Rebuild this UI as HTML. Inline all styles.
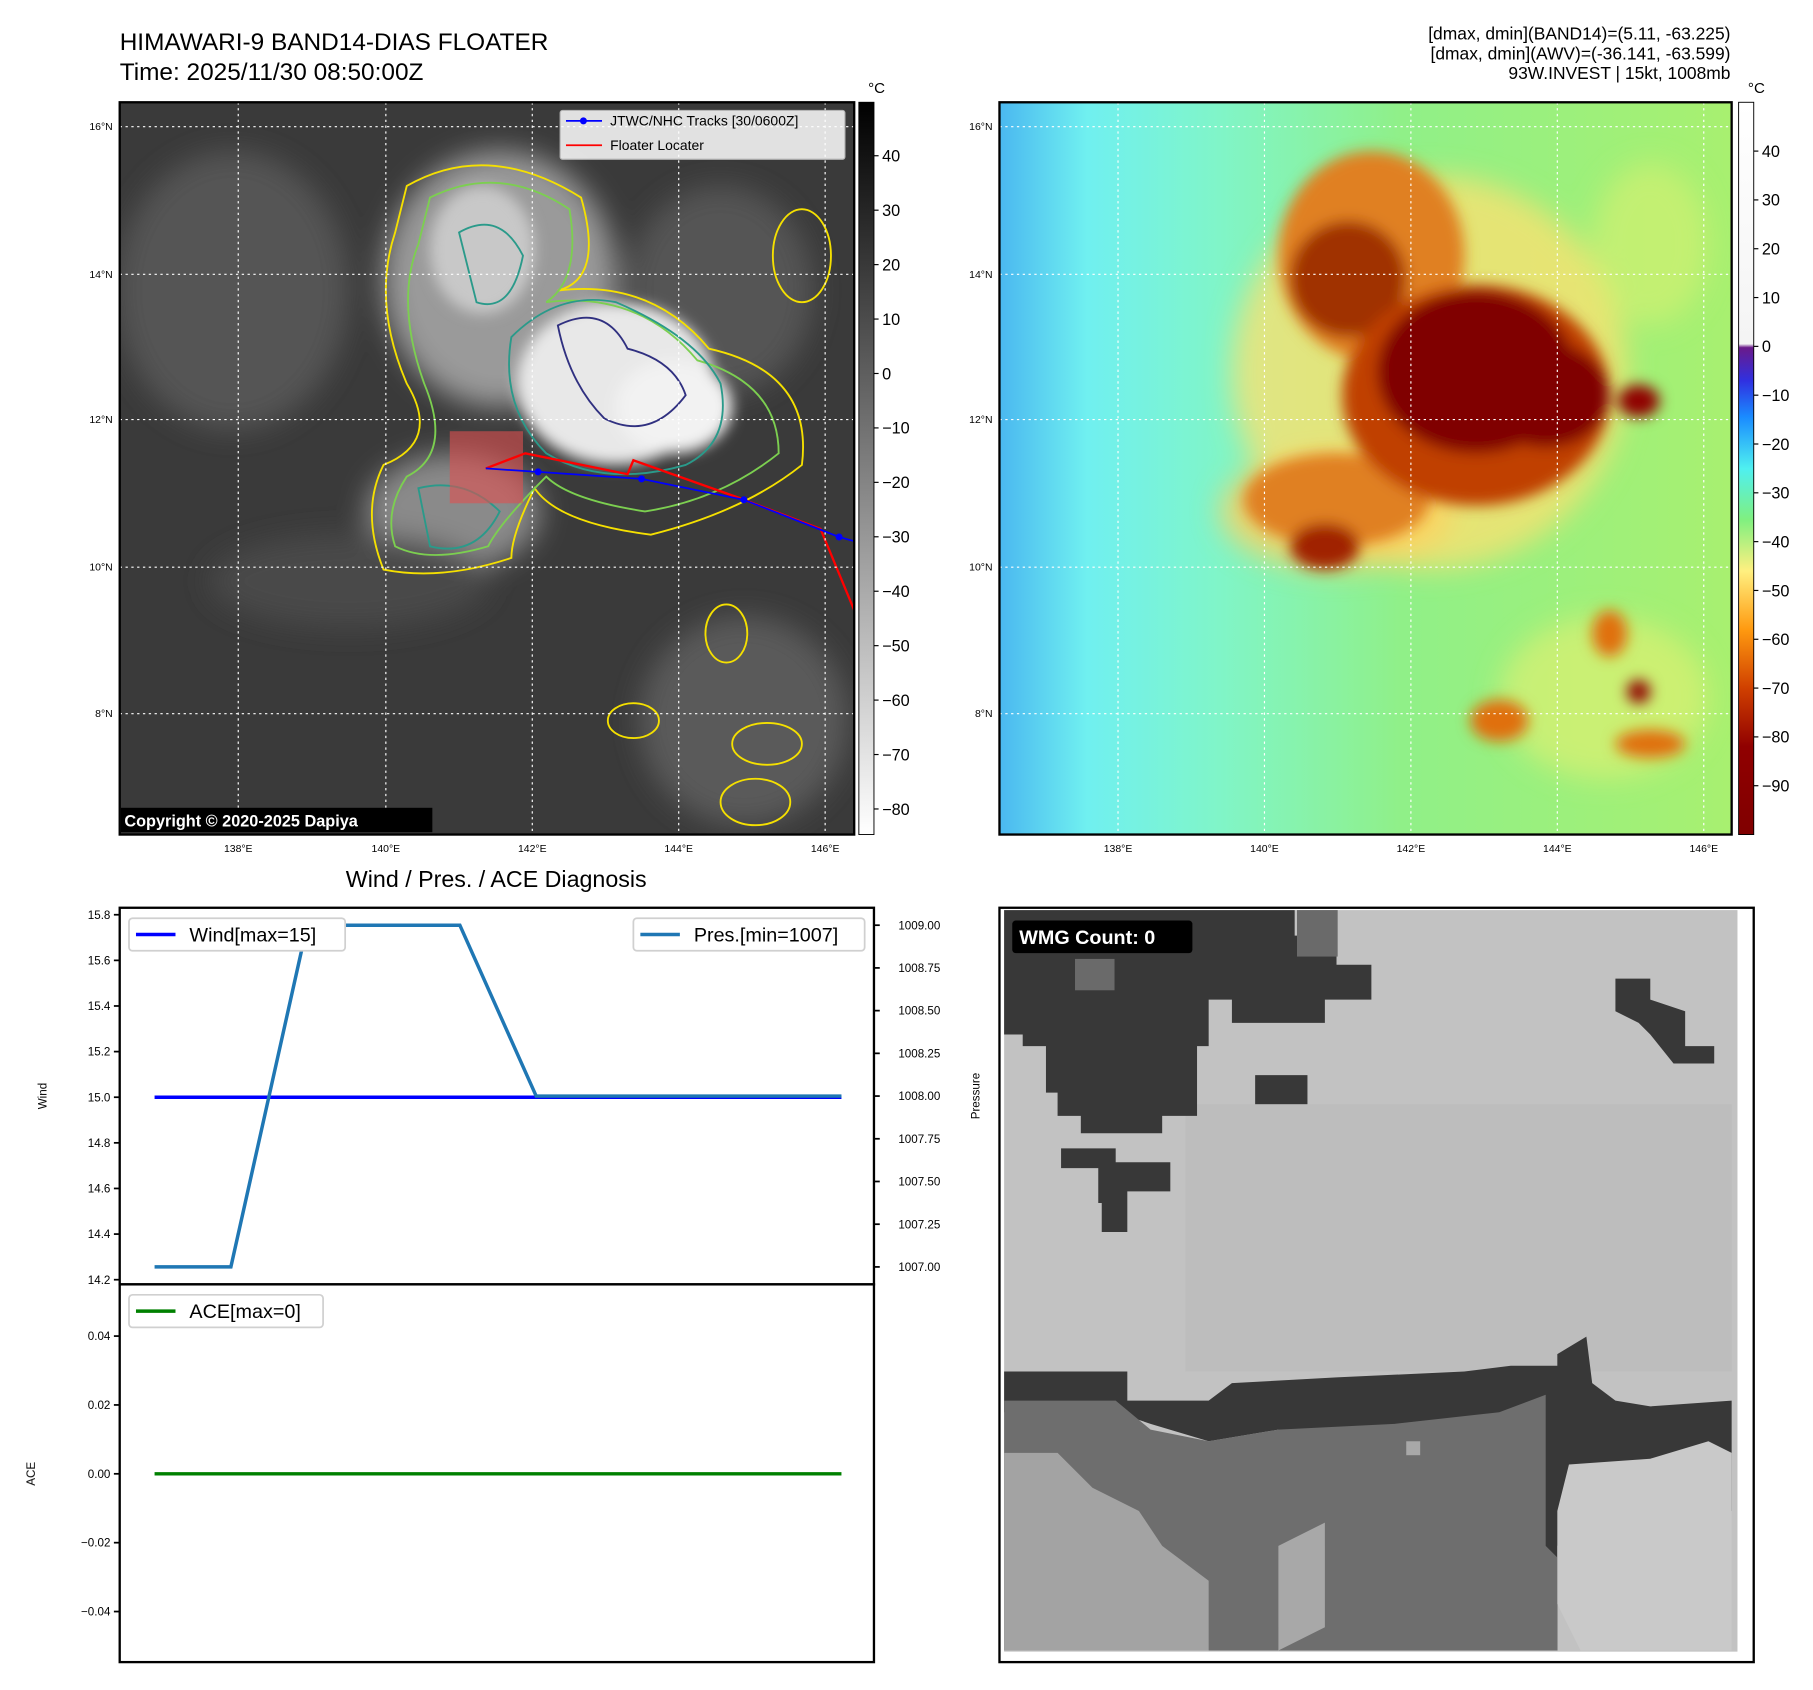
<!DOCTYPE html>
<html><head><meta charset="utf-8"><style>
html,body{margin:0;padding:0;background:#fff}
svg{display:block}
text{font-family:"Liberation Sans","DejaVu Sans",sans-serif}
</style></head><body>
<svg id="root" width="1813" height="1690" viewBox="0 0 1560 1454" preserveAspectRatio="none" xmlns="http://www.w3.org/2000/svg">
<defs>
<filter id="b6"><feGaussianBlur stdDeviation="6"/></filter>
<filter id="b12"><feGaussianBlur stdDeviation="12"/></filter>
<filter id="b3"><feGaussianBlur stdDeviation="2.5"/></filter>
<clipPath id="c1"><rect x="103" y="88" width="632" height="630"/></clipPath>
<clipPath id="c2"><rect x="860" y="88" width="630" height="630"/></clipPath>
<linearGradient id="cb1" x1="0" y1="0" x2="0" y2="1"><stop offset="0" stop-color="#000"/><stop offset="1" stop-color="#fff"/></linearGradient>
<linearGradient id="cb2" x1="0" y1="0" x2="0" y2="1">
<stop offset="0" stop-color="#fff"/><stop offset="0.33" stop-color="#f4f4f4"/>
<stop offset="0.335" stop-color="#6a1a8a"/><stop offset="0.38" stop-color="#3030e0"/>
<stop offset="0.43" stop-color="#1a8cff"/><stop offset="0.5" stop-color="#4ff0f0"/>
<stop offset="0.57" stop-color="#80f080"/><stop offset="0.64" stop-color="#fff080"/>
<stop offset="0.72" stop-color="#ff9a10"/><stop offset="0.8" stop-color="#d04000"/>
<stop offset="0.88" stop-color="#900000"/><stop offset="1" stop-color="#800000"/></linearGradient>
<linearGradient id="bg2" x1="0" y1="0" x2="1" y2="0"><stop offset="0" stop-color="#4ab8f0"/><stop offset="0.12" stop-color="#70f0f0"/><stop offset="0.3" stop-color="#80f5c8"/><stop offset="0.55" stop-color="#90f088"/><stop offset="1" stop-color="#a8f070"/></linearGradient>
</defs>

<!-- titles -->
<text x="103" y="43" font-size="21">HIMAWARI-9 BAND14-DIAS FLOATER</text>
<text x="103" y="69" font-size="21">Time: 2025/11/30 08:50:00Z</text>
<g font-size="15" text-anchor="end">
<text x="1489" y="34">[dmax, dmin](BAND14)=(5.11, -63.225)</text>
<text x="1489" y="51">[dmax, dmin](AWV)=(-36.141, -63.599)</text>
<text x="1489" y="68">93W.INVEST | 15kt, 1008mb</text>
</g>

<!-- MAP 1 -->
<g clip-path="url(#c1)">
<rect x="103" y="88" width="632" height="630" fill="#3a3a3a"/>
<g filter="url(#b12)">
<ellipse cx="430" cy="240" rx="100" ry="110" fill="#9a9a9a"/>
<ellipse cx="390" cy="440" rx="75" ry="50" fill="#8a8a8a"/>
<ellipse cx="200" cy="250" rx="100" ry="120" fill="#555"/>
<ellipse cx="620" cy="250" rx="80" ry="90" fill="#555"/>
<ellipse cx="640" cy="620" rx="90" ry="90" fill="#5a5a5a"/>
<ellipse cx="300" cy="500" rx="120" ry="40" fill="#4a4a4a"/>
</g>
<g filter="url(#b6)">
<ellipse cx="530" cy="330" rx="85" ry="70" fill="#e8e8e8"/>
<ellipse cx="580" cy="350" rx="50" ry="40" fill="#f2f2f2"/>
<ellipse cx="415" cy="215" rx="45" ry="55" fill="#c8c8c8"/>
</g>
<g fill="none" stroke-width="1.6">
<path d="M350 160 Q420 120 500 170 Q520 240 480 250 Q560 240 610 300 Q700 320 690 400 Q640 440 560 460 Q480 450 460 420 Q440 460 440 480 Q380 500 330 490 Q310 440 330 400 Q380 380 350 330 Q320 260 340 200 Z" stroke="#f5e000"/>
<path d="M370 170 Q430 140 490 180 Q500 240 470 260 Q550 250 600 310 Q670 330 670 390 Q620 430 555 440 Q490 430 470 410 Q430 450 420 470 Q370 485 340 470 Q330 440 350 410 Q390 390 365 330 Q340 260 360 210 Z" stroke="#7ccf50"/>
<path d="M440 290 Q480 250 530 260 Q600 290 620 330 Q630 380 590 400 Q520 420 470 390 Q430 350 440 290 Z" stroke="#2a9a8a"/>
<path d="M480 280 Q520 260 540 300 Q580 310 590 340 Q560 380 520 360 Q490 330 480 280 Z" stroke="#303080"/>
<path d="M395 200 Q430 180 450 220 Q440 270 410 260 Z" stroke="#2a9a8a"/>
<path d="M360 420 Q400 410 430 440 Q410 480 370 470 Z" stroke="#2a9a8a"/>
<ellipse cx="625" cy="545" rx="18" ry="25" stroke="#f5e000"/>
<ellipse cx="545" cy="620" rx="22" ry="15" stroke="#f5e000"/>
<ellipse cx="660" cy="640" rx="30" ry="18" stroke="#f5e000"/>
<ellipse cx="650" cy="690" rx="30" ry="20" stroke="#f5e000"/>
<ellipse cx="690" cy="220" rx="25" ry="40" stroke="#f5e000"/>
</g>
<rect x="387" y="371" width="63" height="62" fill="#e05050" opacity="0.6"/>
<polyline points="418,403 452,390 540,408 545,396 635,428 706,455 735,525" fill="none" stroke="#ff0000" stroke-width="2"/>
<polyline points="418,403 463,406 552,412 640,430 722,462 740,467" fill="none" stroke="#0000ff" stroke-width="1.5"/>
<g fill="#0000ff"><circle cx="463" cy="406" r="3"/><circle cx="552" cy="412" r="3"/><circle cx="640" cy="430" r="3"/><circle cx="722" cy="462" r="3"/></g>
<g stroke="#fff" stroke-dasharray="2,3" stroke-width="1">
<line x1="205" y1="88" x2="205" y2="718"/><line x1="332" y1="88" x2="332" y2="718"/><line x1="458" y1="88" x2="458" y2="718"/><line x1="584" y1="88" x2="584" y2="718"/><line x1="710" y1="88" x2="710" y2="718"/>
<line x1="103" y1="109" x2="735" y2="109"/><line x1="103" y1="236" x2="735" y2="236"/><line x1="103" y1="361" x2="735" y2="361"/><line x1="103" y1="488" x2="735" y2="488"/><line x1="103" y1="614" x2="735" y2="614"/>
</g>
<rect x="104" y="695" width="268" height="21" fill="#000"/>
<text x="107" y="711" font-size="14" font-weight="bold" fill="#fff">Copyright © 2020-2025 Dapiya</text>
<g>
<rect x="482" y="95" width="245" height="42" fill="#fff" opacity="0.85" stroke="#ccc" rx="2"/>
<line x1="487" y1="104" x2="518" y2="104" stroke="#0000ff" stroke-width="1.5"/><circle cx="502" cy="104" r="3" fill="#0000ff"/>
<text x="525" y="108" font-size="12">JTWC/NHC Tracks [30/0600Z]</text>
<line x1="487" y1="125" x2="518" y2="125" stroke="#ff0000" stroke-width="1.5"/>
<text x="525" y="129" font-size="12">Floater Locater</text>
</g>
</g>
<rect x="103" y="88" width="632" height="630" fill="none" stroke="#000" stroke-width="2"/>
<g font-size="9">
<text x="205" y="733" text-anchor="middle">138°E</text><text x="332" y="733" text-anchor="middle">140°E</text><text x="458" y="733" text-anchor="middle">142°E</text><text x="584" y="733" text-anchor="middle">144°E</text><text x="710" y="733" text-anchor="middle">146°E</text>
<text x="97" y="112" text-anchor="end">16°N</text><text x="97" y="239" text-anchor="end">14°N</text><text x="97" y="364" text-anchor="end">12°N</text><text x="97" y="491" text-anchor="end">10°N</text><text x="97" y="617" text-anchor="end">8°N</text>
</g>
<g>
<rect x="739" y="88" width="13" height="630" fill="url(#cb1)" stroke="#000" stroke-width="0.8"/>
<text x="747" y="80" font-size="13">°C</text>
<g id="cb1t" font-size="14"></g>
</g>

<!-- MAP 2 -->
<g clip-path="url(#c2)">
<rect x="860" y="88" width="630" height="630" fill="url(#bg2)"/>
<g filter="url(#b12)">
<ellipse cx="1230" cy="320" rx="170" ry="170" fill="#ffe070" opacity="0.75"/>
<ellipse cx="1150" cy="440" rx="100" ry="50" fill="#ffd060" opacity="0.8"/>
<ellipse cx="1380" cy="600" rx="90" ry="70" fill="#e8f070" opacity="0.6"/>
<ellipse cx="1420" cy="210" rx="50" ry="70" fill="#d8f070" opacity="0.6"/>
</g>
<g filter="url(#b6)">
<ellipse cx="1180" cy="220" rx="80" ry="90" fill="#e08020"/>
<ellipse cx="1160" cy="240" rx="50" ry="50" fill="#a03000"/>
<ellipse cx="1150" cy="430" rx="80" ry="40" fill="#e08020"/>
<ellipse cx="1140" cy="470" rx="30" ry="20" fill="#a02000"/>
<ellipse cx="1270" cy="340" rx="115" ry="95" fill="#c04000"/>
<ellipse cx="1270" cy="320" rx="85" ry="70" fill="#800000"/>
<ellipse cx="1330" cy="340" rx="55" ry="45" fill="#800000"/>
<ellipse cx="1410" cy="345" rx="18" ry="14" fill="#900000"/>
<ellipse cx="1385" cy="545" rx="15" ry="20" fill="#e07010"/>
<ellipse cx="1410" cy="595" rx="10" ry="10" fill="#900000"/>
<ellipse cx="1290" cy="620" rx="25" ry="18" fill="#e07010"/>
<ellipse cx="1420" cy="640" rx="30" ry="12" fill="#e07010"/>
</g>
<g stroke="#fff" stroke-dasharray="2,3" stroke-width="1">
<line x1="962" y1="88" x2="962" y2="718"/><line x1="1088" y1="88" x2="1088" y2="718"/><line x1="1214" y1="88" x2="1214" y2="718"/><line x1="1340" y1="88" x2="1340" y2="718"/><line x1="1466" y1="88" x2="1466" y2="718"/>
<line x1="860" y1="109" x2="1490" y2="109"/><line x1="860" y1="236" x2="1490" y2="236"/><line x1="860" y1="361" x2="1490" y2="361"/><line x1="860" y1="488" x2="1490" y2="488"/><line x1="860" y1="614" x2="1490" y2="614"/>
</g>
</g>
<rect x="860" y="88" width="630" height="630" fill="none" stroke="#000" stroke-width="2"/>
<g font-size="9">
<text x="962" y="733" text-anchor="middle">138°E</text><text x="1088" y="733" text-anchor="middle">140°E</text><text x="1214" y="733" text-anchor="middle">142°E</text><text x="1340" y="733" text-anchor="middle">144°E</text><text x="1466" y="733" text-anchor="middle">146°E</text>
<text x="854" y="112" text-anchor="end">16°N</text><text x="854" y="239" text-anchor="end">14°N</text><text x="854" y="364" text-anchor="end">12°N</text><text x="854" y="491" text-anchor="end">10°N</text><text x="854" y="617" text-anchor="end">8°N</text>
</g>
<g>
<rect x="1496" y="88" width="13" height="630" fill="url(#cb2)" stroke="#000" stroke-width="0.8"/>
<text x="1504" y="80" font-size="13">°C</text>
<g id="cb2t" font-size="14"></g>
</g>

<!-- CHART -->
<text x="427" y="763" font-size="20" text-anchor="middle">Wind / Pres. / ACE Diagnosis</text>
<g id="chart"></g>

<!-- WMG -->
<g id="wmg">
<rect x="860" y="781" width="649" height="649" fill="#fff" stroke="#000" stroke-width="2"/>
<rect x="864" y="783" width="631" height="638" fill="#c2c2c2"/>
<g fill="#bdbdbd"><rect x="1020" y="950" width="470" height="230"/></g>
<g fill="#383838">
<polygon points="864,783 1114,783 1114,805 1150,805 1150,830 1180,830 1180,860 1140,860 1140,880 1060,880 1060,860 1040,860 1040,900 1030,900 1030,960 1000,960 1000,975 930,975 930,960 910,960 910,940 900,940 900,900 880,900 880,890 864,890"/>
<rect x="1080" y="925" width="45" height="25"/>
<polygon points="913,988 960,988 960,1000 1007,1000 1007,1025 970,1025 970,1060 948,1060 948,1035 945,1035 945,1005 913,1005"/>
<polygon points="1390,842 1420,842 1420,860 1450,870 1450,900 1475,900 1475,915 1440,915 1420,890 1410,880 1390,870"/>
<polygon points="864,1180 970,1180 970,1205 1040,1205 1060,1190 1150,1185 1260,1180 1300,1175 1340,1175 1340,1165 1365,1150 1370,1190 1390,1205 1420,1210 1490,1205 1490,1300 1470,1300 1450,1320 1440,1350 1420,1340 1400,1330 1380,1300 1350,1310 1340,1330 1340,1420 1100,1420 1100,1230 1040,1240 990,1225 960,1215 864,1215"/>
</g>
<polygon points="864,1205 960,1205 990,1230 1040,1240 1100,1230 1200,1225 1290,1215 1330,1200 1330,1330 1340,1340 1340,1420 864,1420" fill="#6e6e6e"/>
<polygon points="864,1250 910,1250 940,1280 980,1300 1000,1330 1040,1360 1040,1420 864,1420" fill="#a3a3a3"/>
<polygon points="1100,1330 1140,1310 1140,1400 1100,1420" fill="#a8a8a8"/>
<polygon points="1350,1260 1420,1255 1470,1240 1490,1250 1490,1420 1360,1420 1340,1380 1340,1300" fill="#c9c9c9"/>
<rect x="1210" y="1240" width="12" height="12" fill="#a8a8a8"/>
<rect x="1116" y="783" width="35" height="40" fill="#6a6a6a"/>
<rect x="925" y="825" width="34" height="27" fill="#6a6a6a"/>
<rect x="871" y="792" width="155" height="28" rx="3" fill="#000"/>
<text x="877" y="812" font-size="17" font-weight="bold" fill="#fff">WMG Count: 0</text>
</g>
</svg>
<script>
// ---- chart data ----
const xIdx = [0,1,2,3,4,5,6,7,8,9];
const windVals = [15,15,15,15,15,15,15,15,15,15];
const presVals = [1007,1007,1009,1009,1009,1008,1008,1008,1008,1008];
const aceVals = [0,0,0,0,0,0,0,0,0,0];
const windTicks = [14.2,14.4,14.6,14.8,15.0,15.2,15.4,15.6,15.8];
const presTicks = [1007.00,1007.25,1007.50,1007.75,1008.00,1008.25,1008.50,1008.75,1009.00];
const aceTicks = [-0.04,-0.02,0.00,0.02,0.04];
const cb1Ticks = [40,30,20,10,0,-10,-20,-30,-40,-50,-60,-70,-80];
const cb2Ticks = [40,30,20,10,0,-10,-20,-30,-40,-50,-60,-70,-80,-90];

const NS='http://www.w3.org/2000/svg';
function mk(tag, attrs, parent){const e=document.createElementNS(NS,tag);for(const k in attrs)e.setAttribute(k,attrs[k]);parent.appendChild(e);return e;}
const chart=document.getElementById('chart');
const L=103,R=752,T1=781,B1=1105,B2=1430;
const xS=v=>L+30+(v)*65.67;
const wS=v=>1101-(v-14.2)*(314/1.6);
const pS=v=>1090-(v-1007)*147;
const aS=v=>1268-v*2962.5;

let r=mk('rect',{x:L,y:T1,width:R-L,height:B1-T1,fill:'none',stroke:'#000','stroke-width':2},chart);


r=mk('rect',{x:L,y:B1,width:R-L,height:B2-B1,fill:'none',stroke:'#000','stroke-width':2},chart);



windTicks.forEach(t=>{const y=wS(t);mk('line',{x1:L-5,x2:L,y1:y,y2:y,stroke:'#000','stroke-width':1.5},chart);
 const tx=mk('text',{x:L-8,y:y+3.5,'font-size':10,'text-anchor':'end'},chart);tx.textContent=t.toFixed(1);
 
 });
presTicks.forEach(t=>{const y=pS(t);mk('line',{x1:R,x2:R+5,y1:y,y2:y,stroke:'#000','stroke-width':1.5},chart);
 const tx=mk('text',{x:R+21,y:y+3.5,'font-size':10},chart);tx.textContent=t.toFixed(2);
 
 });
aceTicks.forEach(t=>{const y=aS(t);mk('line',{x1:L-5,x2:L,y1:y,y2:y,stroke:'#000','stroke-width':1.5},chart);
 const tx=mk('text',{x:L-8,y:y+3.5,'font-size':10,'text-anchor':'end'},chart);tx.textContent=(t<0?'\u2212':'')+Math.abs(t).toFixed(2);
 
 });

let t;
t=mk('text',{x:40,y:943,'font-size':10,'text-anchor':'middle',transform:'rotate(-90 40 943)'},chart);t.textContent='Wind';


t=mk('text',{x:843,y:943,'font-size':10,'text-anchor':'middle',transform:'rotate(-90 843 943)'},chart);t.textContent='Pressure';


t=mk('text',{x:30,y:1268,'font-size':10,'text-anchor':'middle',transform:'rotate(-90 30 1268)'},chart);t.textContent='ACE';



let p=mk('polyline',{points:xIdx.map((x,i)=>xS(x)+','+wS(windVals[i])).join(' '),fill:'none',stroke:'#0000ff','stroke-width':3},chart);


p=mk('polyline',{points:xIdx.map((x,i)=>xS(x)+','+pS(presVals[i])).join(' '),fill:'none',stroke:'#1f77b4','stroke-width':3},chart);


p=mk('polyline',{points:xIdx.map((x,i)=>xS(x)+','+aS(aceVals[i])).join(' '),fill:'none',stroke:'#008000','stroke-width':3},chart);



function legend(x,y,w,color,label,name){
 const g=mk('g',{},chart);
 
 
 mk('rect',{x:x,y:y,width:w,height:28,fill:'#fff',stroke:'#d0d0d0','stroke-width':1.5,rx:3},g);
 mk('line',{x1:x+6,x2:x+40,y1:y+14,y2:y+14,stroke:color,'stroke-width':3},g);
 const tx=mk('text',{x:x+52,y:y+20,'font-size':17},g);tx.textContent=label;
}
legend(111,790,186,'#0000ff','Wind[max=15]','wind-legend');
legend(545,790,199,'#1f77b4','Pres.[min=1007]','pressure-legend');
legend(111,1114,167,'#008000','ACE[max=0]','ace-legend');

const g1=document.getElementById('cb1t');
cb1Ticks.forEach(v=>{const y=134+(40-v)*(562/120);mk('line',{x1:752,x2:756,y1:y,y2:y,stroke:'#000'},g1);
 const tx=mk('text',{x:759,y:y+5},g1);tx.textContent=(v<0?'\u2212':'')+Math.abs(v);
 
 });
const g2=document.getElementById('cb2t');
cb2Ticks.forEach(v=>{const y=v>=0?130+(40-v)*4.2:298+(-v)*4.2;mk('line',{x1:1509,x2:1513,y1:y,y2:y,stroke:'#000'},g2);
 const tx=mk('text',{x:1516,y:y+5},g2);tx.textContent=(v<0?'\u2212':'')+Math.abs(v);
 
 });
</script>
</body></html>
